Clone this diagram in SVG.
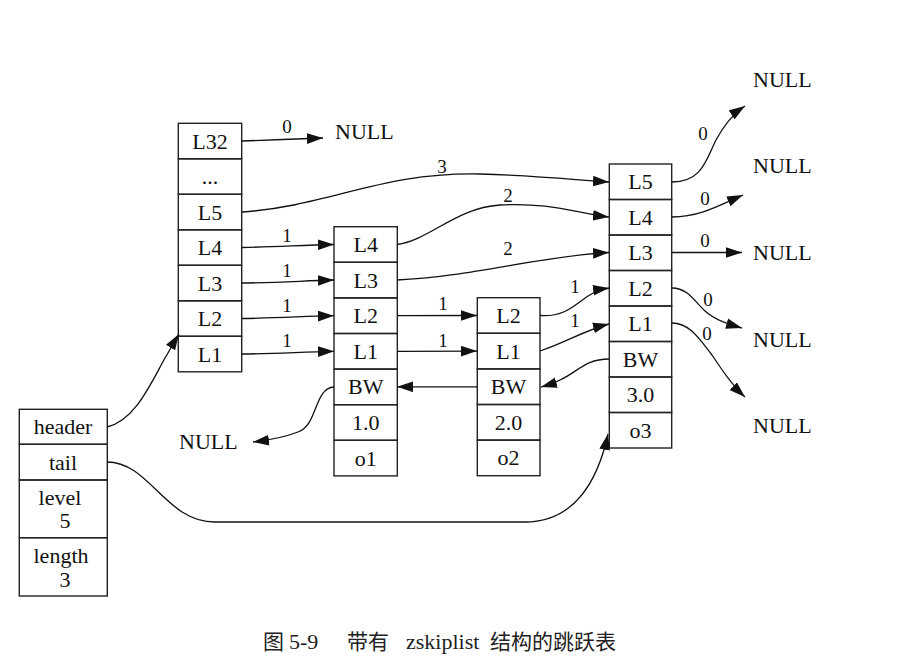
<svg xmlns="http://www.w3.org/2000/svg" width="903" height="670" viewBox="0 0 903 670">
<style>
.n rect{fill:none;stroke:#222;stroke-width:1.4}
text{font-family:"Liberation Serif","Times New Roman",serif;font-size:22px;fill:#111}
.n text{text-anchor:middle}
.lb{font-size:19px;text-anchor:middle}
.e path{fill:none;stroke:#111;stroke-width:1.3;marker-end:url(#ah)}
.cap{font-size:22px;fill:#222}
.cj{font-family:"Noto Sans CJK SC","Liberation Serif",sans-serif;font-size:21px;fill:#222}
</style>
<defs>
<marker id="ah" markerUnits="userSpaceOnUse" markerWidth="16" markerHeight="11" viewBox="0 0 15 10" refX="15" refY="5" orient="auto">
<path d="M0,0 L15,5 L0,10 z" fill="#111"/>
</marker>
</defs>
<rect width="903" height="670" fill="#fff"/>

<g id="header" class="n">
<rect x="19.3" y="409.3" width="88" height="35"/>
<rect x="19.3" y="444.3" width="88" height="35.7"/>
<rect x="19.3" y="480" width="88" height="57.7"/>
<rect x="19.3" y="537.7" width="88" height="58.3"/>
<text x="63" y="434">header</text>
<text x="63" y="470">tail</text>
<text x="60" y="505">level</text>
<text x="65" y="528">5</text>
<text x="61" y="563">length</text>
<text x="65" y="587">3</text>
</g>

<g id="levels" class="n">
<rect x="178.3" y="123.3" width="63.4" height="35.5"/>
<rect x="178.3" y="158.8" width="63.4" height="35.5"/>
<rect x="178.3" y="194.3" width="63.4" height="35.5"/>
<rect x="178.3" y="229.8" width="63.4" height="35.5"/>
<rect x="178.3" y="265.3" width="63.4" height="35.5"/>
<rect x="178.3" y="300.8" width="63.4" height="35.5"/>
<rect x="178.3" y="336.3" width="63.4" height="35.5"/>
<text x="210" y="148.5">L32</text>
<text x="210" y="184">...</text>
<text x="210" y="219.5">L5</text>
<text x="210" y="255">L4</text>
<text x="210" y="290.5">L3</text>
<text x="210" y="326">L2</text>
<text x="210" y="361.5">L1</text>
</g>

<g id="o1" class="n">
<rect x="334" y="226.7" width="63.3" height="35.6"/>
<rect x="334" y="262.3" width="63.3" height="35.6"/>
<rect x="334" y="297.9" width="63.3" height="35.6"/>
<rect x="334" y="333.5" width="63.3" height="35.6"/>
<rect x="334" y="369.1" width="63.3" height="35.6"/>
<rect x="334" y="404.7" width="63.3" height="35.6"/>
<rect x="334" y="440.3" width="63.3" height="35.6"/>
<text x="365.7" y="252">L4</text>
<text x="365.7" y="287.6">L3</text>
<text x="365.7" y="323.2">L2</text>
<text x="365.7" y="358.8">L1</text>
<text x="365.7" y="394.4">BW</text>
<text x="365.7" y="430">1.0</text>
<text x="365.7" y="465.6">o1</text>
</g>

<g id="o2" class="n">
<rect x="477.3" y="297.7" width="62.7" height="35.6"/>
<rect x="477.3" y="333.3" width="62.7" height="35.6"/>
<rect x="477.3" y="368.9" width="62.7" height="35.6"/>
<rect x="477.3" y="404.5" width="62.7" height="35.6"/>
<rect x="477.3" y="440.1" width="62.7" height="35.6"/>
<text x="508.6" y="323">L2</text>
<text x="508.6" y="358.6">L1</text>
<text x="508.6" y="394.2">BW</text>
<text x="508.6" y="429.8">2.0</text>
<text x="508.6" y="465.4">o2</text>
</g>

<g id="o3" class="n">
<rect x="609.3" y="164" width="62.4" height="35.5"/>
<rect x="609.3" y="199.5" width="62.4" height="35.5"/>
<rect x="609.3" y="235" width="62.4" height="35.5"/>
<rect x="609.3" y="270.5" width="62.4" height="35.5"/>
<rect x="609.3" y="306" width="62.4" height="35.5"/>
<rect x="609.3" y="341.5" width="62.4" height="35.5"/>
<rect x="609.3" y="377" width="62.4" height="35.5"/>
<rect x="609.3" y="412.5" width="62.4" height="35.5"/>
<text x="640.5" y="189.2">L5</text>
<text x="640.5" y="224.7">L4</text>
<text x="640.5" y="260.2">L3</text>
<text x="640.5" y="295.7">L2</text>
<text x="640.5" y="331.2">L1</text>
<text x="640.5" y="366.7">BW</text>
<text x="640.5" y="402.2">3.0</text>
<text x="640.5" y="437.7">o3</text>
</g>

<g id="nulls">
<text x="335" y="139">NULL</text>
<text x="179" y="449">NULL</text>
<text x="753" y="87">NULL</text>
<text x="753" y="173">NULL</text>
<text x="753" y="260">NULL</text>
<text x="753" y="347">NULL</text>
<text x="753" y="433">NULL</text>
</g>

<g id="connectors" class="e">
<path d="M107,427 C135,420 150,385 165,358 C170,350 174,342 179,334"/>
<path d="M107,462 C150,462 165,522 215,522 L525,522 C575,522 598,480 608,434"/>
<path d="M242,141 C270,140 295,139 323,138"/>
<path d="M242,212 C330,206 380,172 480,174 C545,176 575,180 609,182"/>
<path d="M242,247.5 C280,247 300,245 334,244.5"/>
<path d="M242,283 C280,282.5 300,281 334,280"/>
<path d="M242,318.5 C280,318 300,316.5 334,315.7"/>
<path d="M242,354 C280,353.5 300,352 334,351.3"/>
<path d="M397,244.5 C430,240 455,208 500,205 C550,202 580,214 609,217"/>
<path d="M397,280 C470,277 540,256 609,252.5"/>
<path d="M397,315.7 L477,315.5"/>
<path d="M397,351.3 L477,351.1"/>
<path d="M477,386.8 L397,386.8"/>
<path d="M540,315.5 C575,318 580,292 609,288"/>
<path d="M540,351 C565,343 585,330 609,324"/>
<path d="M609,359 C585,359 578,372 560,380 C555,383 548,385 541,387"/>
<path d="M334,387 C314,388 318,425 298,432 C285,437 270,440 253,442"/>
<path d="M672,182 C702,182 706,160 716,140 C724,125 733,114 745,106"/>
<path d="M672,217 C700,217 720,205 743,195"/>
<path d="M672,252.5 L742,252.5"/>
<path d="M672,288 C688,288 695,302 705,311 C715,320 728,324 742,328"/>
<path d="M672,323 C690,323 700,340 712,355 C722,370 732,385 745,397"/>
</g>

<g id="labels">
<text class="lb" x="287" y="133">0</text>
<text class="lb" x="442" y="173">3</text>
<text class="lb" x="287" y="242">1</text>
<text class="lb" x="287" y="277">1</text>
<text class="lb" x="287" y="312">1</text>
<text class="lb" x="287" y="347">1</text>
<text class="lb" x="508" y="202">2</text>
<text class="lb" x="508" y="255">2</text>
<text class="lb" x="443" y="310">1</text>
<text class="lb" x="443" y="347">1</text>
<text class="lb" x="575" y="293">1</text>
<text class="lb" x="575" y="327">1</text>
<text class="lb" x="703" y="140">0</text>
<text class="lb" x="705" y="205">0</text>
<text class="lb" x="705" y="247">0</text>
<text class="lb" x="708" y="306">0</text>
<text class="lb" x="707" y="340">0</text>
</g>

<g id="caption">
<text class="cj" x="263" y="649">图</text>
<text class="cap" x="289" y="649">5-9</text>
<text class="cj" x="347" y="649">带有</text>
<text class="cap" x="406" y="649">zskiplist</text>
<text class="cj" x="490" y="649">结构的跳跃表</text>
</g>
</svg>
